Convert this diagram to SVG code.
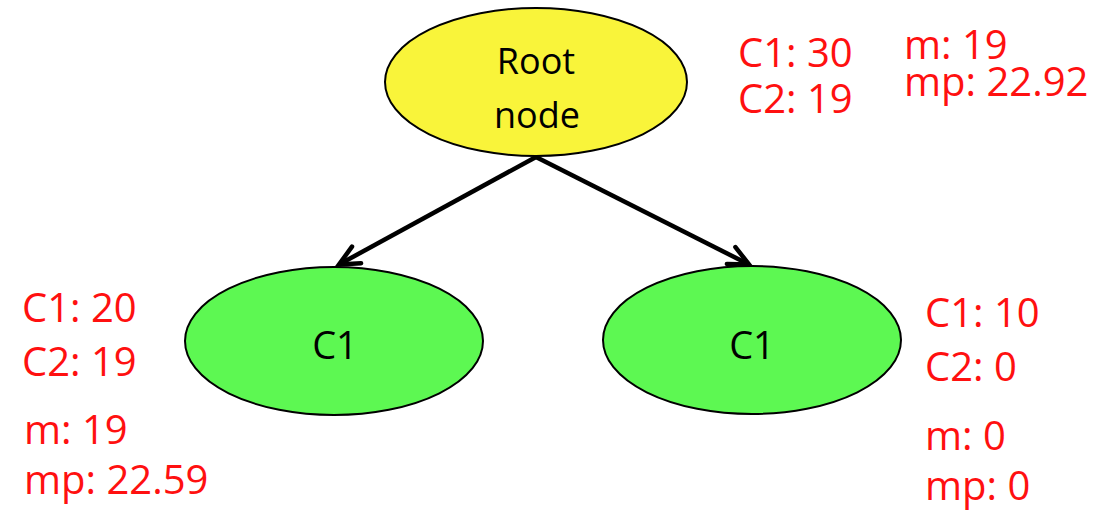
<svg xmlns="http://www.w3.org/2000/svg" width="1115" height="510" viewBox="0 0 1115 510">
  <style>
    .node { stroke: #000; stroke-width: 2; }
    .root { fill: #F9F43A; }
    .leaf { fill: #5DF852; }
    .ntext { font-family: "Open Sans", "Liberation Sans", sans-serif; fill: #000; text-anchor: middle; }
    .stat { font-family: "Open Sans", "Liberation Sans", sans-serif; font-size: 40px; fill: #FF1010; }
    .edge { stroke: #000; stroke-width: 4.5; fill: none; }
  </style>
  <defs>
    <marker id="arrow" markerUnits="userSpaceOnUse" markerWidth="30" markerHeight="30" refX="0" refY="0" viewBox="-25 -15 30 30" orient="auto" overflow="visible">
      <path d="M-20,-9.5 L0,0 L-20,9.5" fill="none" stroke="#000" stroke-width="4.5" stroke-linecap="round" stroke-linejoin="miter"/>
    </marker>
  </defs>
  <rect width="1115" height="510" fill="#fff"/>

  <g id="connectors">
    <line class="edge" x1="536" y1="157" x2="339" y2="264.5" marker-end="url(#arrow)"/>
    <line class="edge" x1="536" y1="157" x2="749" y2="264.5" marker-end="url(#arrow)"/>
  </g>

  <g id="root">
    <ellipse class="node root" cx="536" cy="82" rx="151" ry="74"/>
    <text class="ntext" x="536" y="74" font-size="36">Root</text>
    <text class="ntext" x="537" y="128" font-size="36">node</text>
  </g>

  <g id="left">
    <ellipse class="node leaf" cx="334" cy="341" rx="149" ry="74"/>
    <text class="ntext" x="335" y="359" font-size="38">C1</text>
  </g>

  <g id="right">
    <ellipse class="node leaf" cx="752" cy="340" rx="149" ry="74"/>
    <text class="ntext" x="752" y="359" font-size="38">C1</text>
  </g>

  <g id="root-stats">
    <text class="stat" x="738" y="67">C1: 30</text>
    <text class="stat" x="738" y="113">C2: 19</text>
    <text class="stat" x="904" y="59">m: 19</text>
    <text class="stat" x="904" y="96">mp: 22.92</text>
  </g>

  <g id="left-stats">
    <text class="stat" x="22" y="322">C1: 20</text>
    <text class="stat" x="22" y="376">C2: 19</text>
    <text class="stat" x="24" y="444">m: 19</text>
    <text class="stat" x="24" y="494">mp: 22.59</text>
  </g>

  <g id="right-stats">
    <text class="stat" x="925" y="327">C1: 10</text>
    <text class="stat" x="925" y="381">C2: 0</text>
    <text class="stat" x="925" y="450">m: 0</text>
    <text class="stat" x="925" y="500">mp: 0</text>
  </g>
</svg>
